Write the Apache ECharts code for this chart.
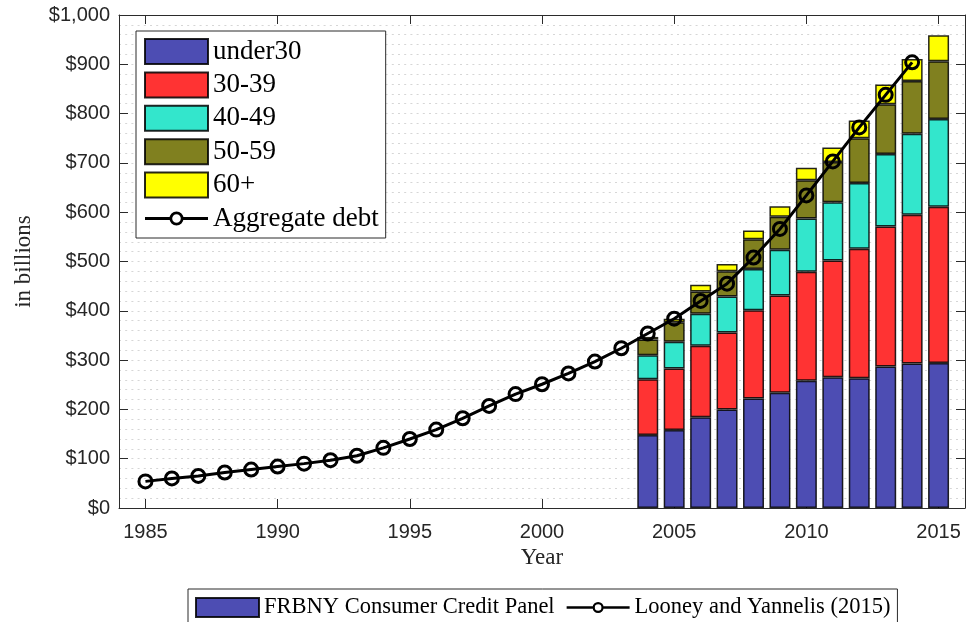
<!DOCTYPE html>
<html>
<head>
<meta charset="utf-8">
<title>Student debt by age group</title>
<script src="https://cdn.jsdelivr.net/npm/echarts@6/dist/echarts.min.js"></script>
<style>
  html, body { margin: 0; padding: 0; background: #fff; }
  #chart { width: 966px; height: 622px; }
</style>
</head>
<body>
<div id="chart"></div>
<script>
// Year categories for the horizontal axis
const years = [1984, 1985, 1986, 1987, 1988, 1989, 1990, 1991, 1992, 1993, 1994,
  1995, 1996, 1997, 1998, 1999, 2000, 2001, 2002, 2003, 2004, 2005, 2006, 2007,
  2008, 2009, 2010, 2011, 2012, 2013, 2014, 2015, 2016];

// FRBNY Consumer Credit Panel, debt by borrower age ($ billions)
const panelYears = [2004, 2005, 2006, 2007, 2008, 2009, 2010, 2011, 2012, 2013, 2014, 2015];
const under30   = [148, 158, 184, 200, 222, 234, 258, 265, 263, 287, 293, 294];
const age30_39  = [113, 125, 145, 156, 179, 197, 221, 237, 263, 284, 302, 317];
const age40_49  = [49, 54, 65, 73, 84, 93, 108, 118, 133, 147, 164, 178];
const age50_59  = [32, 40, 45, 51, 60, 67, 78, 82, 91, 101, 107, 117];
const age60plus = [5, 7, 14, 15, 18, 21, 25, 29, 36, 40, 45, 53];

// Looney and Yannelis (2015), aggregate debt ($ billions)
const aggregateYears = [1985, 1986, 1987, 1988, 1989, 1990, 1991, 1992, 1993, 1994,
  1995, 1996, 1997, 1998, 1999, 2000, 2001, 2002, 2003, 2004, 2005, 2006, 2007,
  2008, 2009, 2010, 2011, 2012, 2013, 2014];
const aggregateDebt = [54, 60, 65, 72, 78, 84, 90, 97, 106, 122, 140, 159, 182,
  207, 231, 251, 273, 297, 324, 354, 384, 420, 455, 508, 566, 634, 703, 772, 838, 904];

// Value-axis ticks
const yMin = 0, yMax = 1000, yStep = 100;

// Place a series onto the year categories (null where there is no value)
function onYears(srcYears, values) {
  return years.map(y => {
    const i = srcYears.indexOf(y);
    return i >= 0 ? values[i] : null;
  });
}

const colors = {
  under30: '#4d4db3',
  a30: '#ff3333',
  a40: '#33e6cc',
  a50: '#80801f',
  a60: '#ffff00'
};

const serif = '"Liberation Serif", "Times New Roman", serif';
const sans = '"Liberation Sans", Arial, sans-serif';
const ink = '#262626';
const frame = '#2b2b2b';

const everyFifth = (idx, val) => Number(val) % 5 === 0;

// Key glyph for the line series: a short line through a hollow ring
function ringLineIcon(r, rIn, half) {
  const c = 31.5, cy = r;
  const l = c - r + 0.5, rr = c + r - 0.5;
  return 'path://' +
    'M0 ' + (cy - half) + 'H' + l + 'V' + (cy + half) + 'H0Z' +
    'M' + rr + ' ' + (cy - half) + 'H63V' + (cy + half) + 'H' + rr + 'Z' +
    'M' + (c - r) + ' ' + cy + 'A' + r + ' ' + r + ' 0 1 1 ' + (c + r) + ' ' + cy +
    'A' + r + ' ' + r + ' 0 1 1 ' + (c - r) + ' ' + cy + 'Z' +
    'M' + (c - rIn) + ' ' + cy + 'A' + rIn + ' ' + rIn + ' 0 1 0 ' + (c + rIn) + ' ' + cy +
    'A' + rIn + ' ' + rIn + ' 0 1 0 ' + (c - rIn) + ' ' + cy + 'Z';
}

const barBorder = { borderColor: 'rgba(0,0,0,0.85)', borderWidth: 1.5 };

function barSeries(name, values, color) {
  return {
    name: name,
    type: 'bar',
    stack: 'age',
    barWidth: 21,
    data: onYears(panelYears, values),
    itemStyle: Object.assign({ color: color }, barBorder),
    emphasis: { disabled: true },
    z: 2
  };
}

const lineStyleCommon = {
  type: 'line',
  symbol: 'circle',
  symbolSize: 13,
  lineStyle: { color: '#000', width: 3 },
  itemStyle: { color: 'rgba(0,0,0,0)', borderColor: '#000', borderWidth: 3 },
  emphasis: { disabled: true },
  z: 4
};

const lineKeyStyle = { color: '#000', borderWidth: 0 };

const chart = echarts.init(document.getElementById('chart'), null, { renderer: 'canvas' });

chart.setOption({
  animation: false,
  backgroundColor: '#fff',
  grid: { left: 119, right: 1, top: 15, bottom: 114, containLabel: false, outerBoundsMode: 'none' },
  legend: [
    {
      orient: 'vertical',
      left: 136,
      top: 31,
      padding: [7, 7, 6, 8],
      itemWidth: 63,
      itemHeight: 25,
      itemGap: 6.4,
      selectedMode: false,
      backgroundColor: '#fff',
      borderColor: frame,
      borderWidth: 1,
      borderRadius: 0,
      textStyle: { fontFamily: serif, fontSize: 27, color: '#000', lineHeight: 25, height: 25 },
      data: [
        { name: 'under30', icon: 'rect' },
        { name: '30-39', icon: 'rect' },
        { name: '40-49', icon: 'rect' },
        { name: '50-59', icon: 'rect' },
        { name: '60+', icon: 'rect' },
        { name: 'Aggregate debt', icon: ringLineIcon(7, 4.3, 1.5), itemStyle: lineKeyStyle }
      ]
    },
    {
      orient: 'horizontal',
      left: 188,
      top: 589,
      padding: [7, 7, 6, 7],
      itemWidth: 63,
      itemHeight: 19,
      itemGap: 12,
      selectedMode: false,
      backgroundColor: '#fff',
      borderColor: frame,
      borderWidth: 1,
      borderRadius: 0,
      textStyle: { fontFamily: serif, fontSize: 22.5, color: '#000', lineHeight: 19, height: 19 },
      data: [
        { name: 'FRBNY Consumer Credit Panel', icon: 'rect' },
        { name: 'Looney and Yannelis (2015)', icon: ringLineIcon(5.5, 3.3, 1.3), itemStyle: lineKeyStyle }
      ]
    }
  ],
  xAxis: [
    {
      type: 'category',
      data: years,
      boundaryGap: false,
      name: 'Year',
      nameLocation: 'middle',
      nameGap: 38,
      nameTextStyle: { fontFamily: serif, fontSize: 23, color: ink },
      axisLine: { show: true, onZero: false, lineStyle: { color: frame, width: 1 } },
      axisTick: { show: true, inside: true, length: 9, interval: everyFifth, lineStyle: { color: frame, width: 1 } },
      axisLabel: { show: true, interval: everyFifth, margin: 14, fontFamily: sans, fontSize: 20, color: ink },
      splitLine: { show: false }
    },
    {
      type: 'category',
      data: years,
      boundaryGap: false,
      position: 'top',
      axisLine: { show: true, onZero: false, lineStyle: { color: frame, width: 1 } },
      axisTick: { show: true, inside: true, length: 9, interval: everyFifth, lineStyle: { color: frame, width: 1 } },
      axisLabel: { show: false },
      splitLine: { show: false }
    }
  ],
  yAxis: [
    {
      type: 'value',
      min: yMin,
      max: yMax,
      interval: yStep,
      name: 'in billions',
      nameLocation: 'middle',
      nameGap: 84,
      nameRotate: 90,
      nameTextStyle: { fontFamily: serif, fontSize: 23, color: ink },
      axisLine: { show: true, lineStyle: { color: frame, width: 1 } },
      axisTick: { show: true, inside: true, length: 9, lineStyle: { color: frame, width: 1 } },
      axisLabel: {
        margin: 9,
        fontFamily: sans,
        fontSize: 20,
        color: ink,
        formatter: v => '$' + v.toLocaleString('en-US')
      },
      splitLine: { show: true, lineStyle: { color: '#d6d6d6', width: 1, type: [2, 4.2] } },
      minorTick: { show: false, splitNumber: 5 },
      minorSplitLine: { show: true, lineStyle: { color: '#d6d6d6', width: 1, type: [2, 4.2] } }
    },
    {
      type: 'value',
      min: yMin,
      max: yMax,
      interval: yStep,
      position: 'right',
      axisLine: { show: true, lineStyle: { color: frame, width: 1 } },
      axisTick: { show: true, inside: true, length: 9, lineStyle: { color: frame, width: 1 } },
      axisLabel: { show: false },
      splitLine: { show: false }
    }
  ],
  series: [
    barSeries('under30', under30, colors.under30),
    barSeries('30-39', age30_39, colors.a30),
    barSeries('40-49', age40_49, colors.a40),
    barSeries('50-59', age50_59, colors.a50),
    barSeries('60+', age60plus, colors.a60),
    Object.assign({}, lineStyleCommon, {
      name: 'Aggregate debt',
      data: onYears(aggregateYears, aggregateDebt)
    }),
    // Source entries for the lower key
    {
      name: 'FRBNY Consumer Credit Panel',
      type: 'bar',
      stack: 'age',
      barWidth: 21,
      data: [],
      itemStyle: Object.assign({ color: colors.under30 }, barBorder)
    },
    Object.assign({}, lineStyleCommon, {
      name: 'Looney and Yannelis (2015)',
      data: []
    })
  ]
});
</script>
</body>
</html>
